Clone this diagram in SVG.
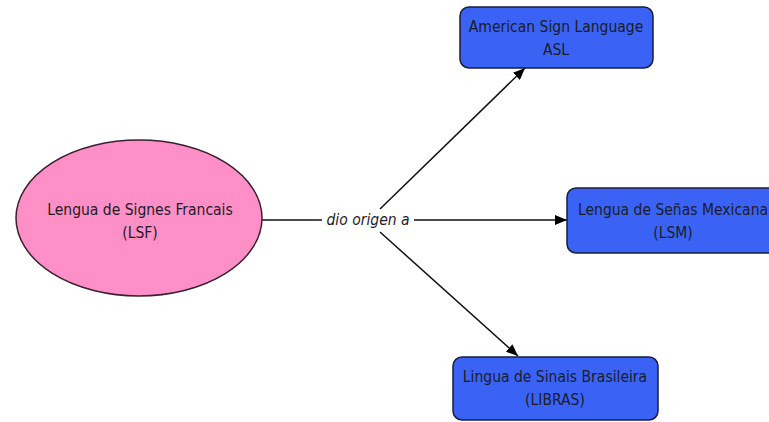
<svg xmlns="http://www.w3.org/2000/svg" width="769" height="422" viewBox="0 0 769 422">
<style>
.t{font-family:"DejaVu Sans Condensed","DejaVu Sans",sans-serif;font-stretch:condensed;font-size:15.5px;fill:#1c1c28;text-anchor:middle}
.box{fill:#3a63f5;stroke:#1a1d3a;stroke-width:1.5}
.ell{fill:#ff8fc6;stroke:#3a2030;stroke-width:1.5}
.c{stroke:#111;stroke-width:1.5;fill:none}
.lbl{font-family:"DejaVu Sans Condensed","DejaVu Sans",sans-serif;font-stretch:condensed;font-size:15.5px;font-style:italic;fill:#1c1c28;text-anchor:middle}
</style>
<defs>
<marker id="ah" viewBox="0 0 12 10" refX="12" refY="5" markerWidth="12" markerHeight="10" markerUnits="userSpaceOnUse" orient="auto">
<path d="M0,0 L12,5 L0,10 Z" fill="#000"/>
</marker>
</defs>
<rect width="769" height="422" fill="#fff"/>
<g id="connectors">
<line class="c" x1="262" y1="220" x2="322" y2="220"/>
<line class="c" x1="414" y1="220" x2="567" y2="220" marker-end="url(#ah)"/>
<line class="c" x1="380" y1="209" x2="525" y2="68" marker-end="url(#ah)"/>
<line class="c" x1="380" y1="232" x2="518" y2="356" marker-end="url(#ah)"/>
<text class="lbl" x="368" y="225">dio origen a</text>
</g>
<g id="lsf">
<ellipse class="ell" cx="139" cy="218" rx="123" ry="78"/>
<text class="t" x="140" y="215">Lengua de Signes Francais</text>
<text class="t" x="140" y="238">(LSF)</text>
</g>
<g id="asl">
<rect class="box" x="460" y="7" width="193" height="61" rx="9"/>
<text class="t" x="556" y="32">American Sign Language</text>
<text class="t" x="556" y="55">ASL</text>
</g>
<g id="lsm">
<rect class="box" x="567" y="188" width="215" height="65" rx="9"/>
<text class="t" x="673" y="215">Lengua de Señas Mexicana</text>
<text class="t" x="673" y="238">(LSM)</text>
</g>
<g id="libras">
<rect class="box" x="453" y="357" width="205" height="63" rx="9"/>
<text class="t" x="555" y="382">Lingua de Sinais Brasileira</text>
<text class="t" x="555" y="405">(LIBRAS)</text>
</g>
</svg>
